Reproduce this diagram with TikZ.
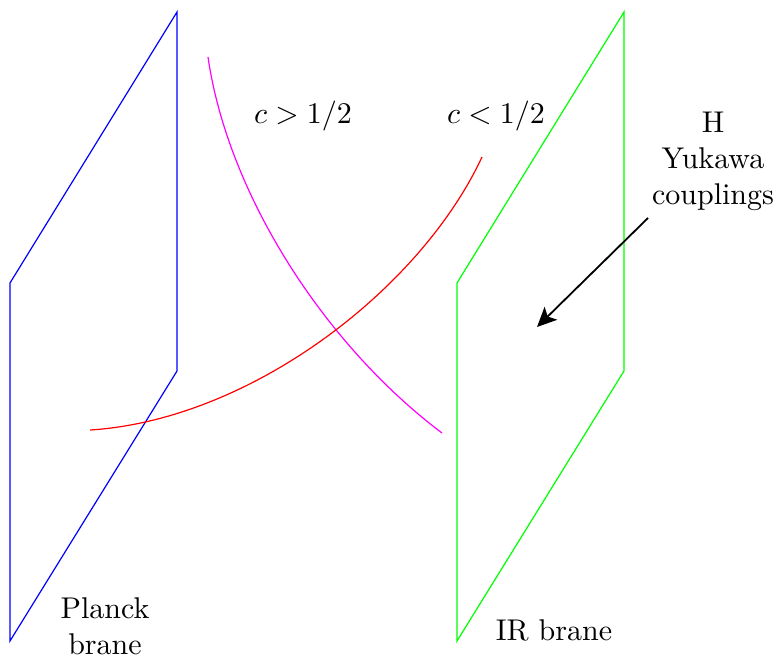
\documentclass[tikz,border=0pt]{standalone}
\usetikzlibrary{arrows.meta}
\definecolor{mag}{rgb}{1,0,1}
\definecolor{rd}{rgb}{1,0,0}
\begin{document}
\begin{tikzpicture}[x=0.3333pt,y=-0.3333pt,
  lbl/.style={inner sep=0pt,align=center},
  brane/.style={line width=0.4pt}]
\useasboundingbox (0,0) rectangle (779,658);
% Planck brane
\coordinate (p1) at (10,283);
\coordinate (p2) at (177,12);
\coordinate (p3) at (177,371);
\coordinate (p4) at (10,641);
\draw[brane,blue] (p1) -- (p2) -- (p3) -- (p4) -- cycle;
% IR brane
\coordinate (g1) at (457,283);
\coordinate (g2) at (624,12);
\coordinate (g3) at (624,371);
\coordinate (g4) at (457,641);
\draw[brane,green] (g1) -- (g2) -- (g3) -- (g4) -- cycle;
% curves
\coordinate (ms) at (208,57);
\coordinate (me) at (442,433);
\draw[mag] (ms) .. controls (228,195) and (325,345) .. (me);
\coordinate (rs) at (90,430);
\coordinate (re) at (482,157);
\draw[rd] (rs) .. controls (250,420) and (420,290) .. (re);
% labels
\node[lbl] (cg) at (303,116) {$c>1/2$};
\node[lbl] (cl) at (496,116) {$c<1/2$};
\node[lbl] (yuk) at (713,161) {H\\Yukawa\\couplings};
\node[lbl] (planck) at (105,626) {Planck\\brane};
\node[lbl] (ir) at (554,630) {IR brane};
% arrow
\coordinate (as) at (648,218);
\coordinate (ae) at (537,327);
\draw[-{Stealth[length=6.5pt,width=6pt,inset=1.5pt]},line width=0.6pt] (as) -- (ae);
\end{tikzpicture}
\end{document}
